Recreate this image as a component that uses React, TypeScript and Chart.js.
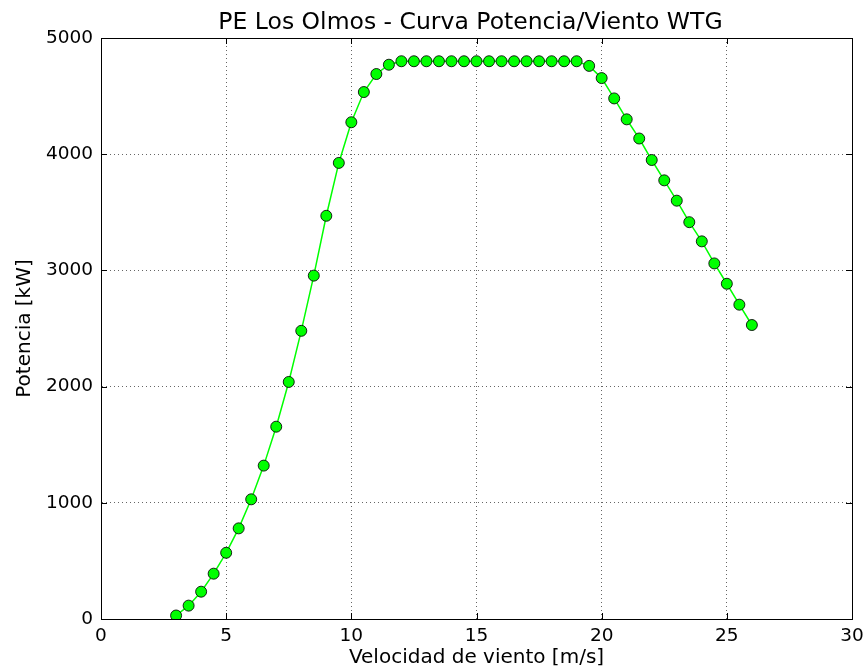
import { useEffect, useRef } from "react";
import { Chart, registerables } from "chart.js";

Chart.register(...registerables);

const chartTitle = "PE Los Olmos - Curva Potencia/Viento WTG";
const xLabel = "Velocidad de viento [m/s]";
const yLabel = "Potencia [kW]";

const windSpeed = [
  3, 3.5, 4, 4.5, 5, 5.5, 6, 6.5, 7, 7.5, 8, 8.5, 9, 9.5, 10, 10.5, 11, 11.5,
  12, 12.5, 13, 13.5, 14, 14.5, 15, 15.5, 16, 16.5, 17, 17.5, 18, 18.5, 19,
  19.5, 20, 20.5, 21, 21.5, 22, 22.5, 23, 23.5, 24, 24.5, 25, 25.5, 26,
];
const powerKW = [
  30, 115, 235, 390, 570, 780, 1030, 1320, 1655, 2040, 2480, 2955, 3470, 3925,
  4275, 4535, 4690, 4770, 4800, 4800, 4800, 4800, 4800, 4800, 4800, 4800, 4800,
  4800, 4800, 4800, 4800, 4800, 4800, 4760, 4655, 4480, 4300, 4135, 3950, 3775,
  3600, 3415, 3250, 3060, 2885, 2705, 2530,
];
const xTicks = [0, 5, 10, 15, 20, 25, 30];
const yTicks = [0, 1000, 2000, 3000, 4000, 5000];

const FONT = "'DejaVu Sans', 'Liberation Sans', sans-serif";

const framePlugin = {
  id: "framePlugin",
  afterDraw(chart: any) {
    const { ctx, chartArea } = chart;
    const { left, right, top, bottom } = chartArea;
    const xs = chart.scales.x;
    const ys = chart.scales.y;
    ctx.save();
    ctx.strokeStyle = "#000";
    ctx.lineWidth = 1;
    ctx.beginPath();
    ctx.rect(left + 0.5, top + 0.5, right - left, bottom - top);
    ctx.stroke();
    const tl = 6;
    ctx.beginPath();
    for (const v of xTicks) {
      const px = Math.round(xs.getPixelForValue(v)) + 0.5;
      ctx.moveTo(px, bottom);
      ctx.lineTo(px, bottom - tl);
      ctx.moveTo(px, top);
      ctx.lineTo(px, top + tl);
    }
    for (const v of yTicks) {
      const py = Math.round(ys.getPixelForValue(v)) + 0.5;
      ctx.moveTo(left, py);
      ctx.lineTo(left + tl, py);
      ctx.moveTo(right, py);
      ctx.lineTo(right - tl, py);
    }
    ctx.stroke();
    ctx.fillStyle = "#000";
    ctx.font = `23.5px ${FONT}`;
    ctx.textAlign = "center";
    ctx.textBaseline = "alphabetic";
    ctx.fillText(chartTitle, (left + right) / 2 - 6, 29);
    ctx.restore();
  },
};

export default function App() {
  const ref = useRef<HTMLCanvasElement | null>(null);
  useEffect(() => {
    if (!ref.current) return;
    const points = windSpeed.map((x, i) => ({ x, y: powerKW[i] }));
    const chart = new Chart(ref.current, {
      type: "line",
      data: {
        datasets: [
          {
            data: points,
            borderColor: "#00ff00",
            borderWidth: 1.5,
            backgroundColor: "#00ff00",
            pointBackgroundColor: "#00ff00",
            pointBorderColor: "rgba(0,0,0,0.85)",
            pointBorderWidth: 1,
            pointRadius: 5.5,
            tension: 0,
            fill: false,
          },
        ],
      },
      plugins: [framePlugin],
      options: {
        animation: false,
        responsive: false,
        layout: { padding: { top: 38, right: 11, bottom: 0, left: 0 } },
        plugins: {
          legend: { display: false },
          tooltip: { enabled: false },
          title: { display: false },
        },
        scales: {
          x: {
            type: "linear",
            min: 0,
            max: 30,
            afterFit(scale: any) {
              scale.height = 51;
              scale.paddingLeft = 0;
              scale.paddingRight = 0;
            },
            afterBuildTicks(scale: any) {
              scale.ticks = xTicks.map((v) => ({ value: v }));
            },
            ticks: {
              color: "#000",
              font: { family: FONT, size: 18.5 },
              padding: 6,
              maxRotation: 0,
              autoSkip: false,
              callback: (v: any) => String(v),
            },
            grid: {
              color: "rgba(0,0,0,0.6)",
              lineWidth: 1,
              drawTicks: false,
            },
            border: { display: true, color: "#000", width: 1, dash: [1, 3] },
            title: {
              display: true,
              text: xLabel,
              color: "#000",
              font: { family: FONT, size: 20 },
              padding: { top: 0, bottom: 0 },
            },
          },
          y: {
            type: "linear",
            min: 0,
            max: 5000,
            afterFit(scale: any) {
              scale.width = 101;
              scale.paddingTop = 0;
              scale.paddingBottom = 0;
            },
            afterBuildTicks(scale: any) {
              scale.ticks = yTicks.map((v) => ({ value: v }));
            },
            ticks: {
              color: "#000",
              font: { family: FONT, size: 18.5 },
              padding: 8,
              autoSkip: false,
              callback: (v: any) => String(v),
            },
            grid: {
              color: "rgba(0,0,0,0.6)",
              lineWidth: 1,
              drawTicks: false,
            },
            border: { display: true, color: "#000", width: 1, dash: [1, 3] },
            title: {
              display: true,
              text: yLabel,
              color: "#000",
              font: { family: FONT, size: 20 },
              padding: { top: 13, bottom: 0 },
            },
          },
        },
      } as any,
    });
    return () => chart.destroy();
  }, []);
  return (
    <div style={{ position: "fixed", left: 0, top: 0, width: 863, height: 670, background: "#fff" }}>
      <canvas ref={ref} width={863} height={670} />
    </div>
  );
}
